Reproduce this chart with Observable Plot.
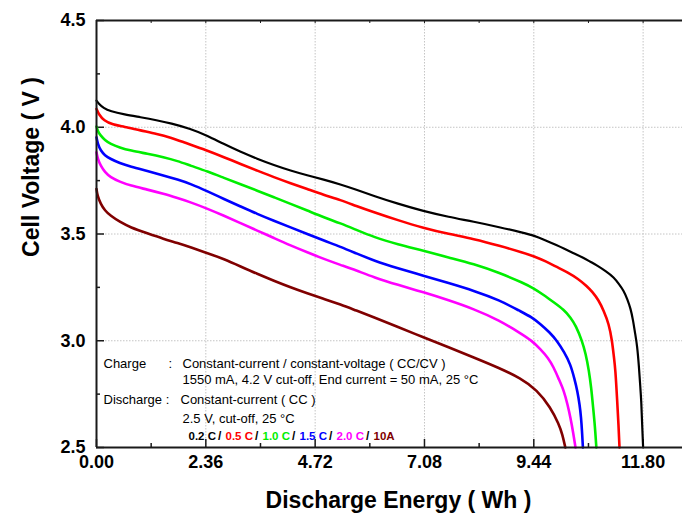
<!DOCTYPE html>
<html><head><meta charset="utf-8">
<script src="https://cdn.jsdelivr.net/npm/d3@7"></script>
<script src="https://cdn.jsdelivr.net/npm/@observablehq/plot@0.6"></script>
<style>html,body{margin:0;padding:0;background:#fff}#chart svg{display:block}</style>
</head><body><div id="chart"></div><script>
// ---- data ----
const seriesNames = ["0.2 C", "0.5 C", "1.0 C", "1.5 C", "2.0 C", "10A"];
const seriesColors = ["#000000", "#ff0000", "#00ee00", "#0000ff", "#ff00ff", "#800000"];

const energy02 = [0,0.05,0.15,0.30,0.6,0.95,1.3,1.6,2.03,2.4,2.74,3.1,3.47,3.83,4.19,4.55,4.90,5.27,5.6,5.99,6.5,7.06,7.6,8.14,8.7,9.22,9.44,9.7,9.94,10.09,10.3,10.5,10.66,10.81,11.0,11.17,11.28,11.38,11.46,11.53,11.58,11.63,11.67,11.71,11.74,11.76,11.78,11.80];
const volt02   = [4.125,4.11,4.09,4.075,4.06,4.047,4.033,4.019,3.993,3.96,3.922,3.886,3.852,3.823,3.797,3.775,3.755,3.732,3.708,3.678,3.642,3.607,3.58,3.558,3.532,3.505,3.493,3.47,3.447,3.432,3.41,3.39,3.37,3.352,3.325,3.297,3.265,3.235,3.195,3.15,3.1,3.03,2.98,2.88,2.78,2.72,2.6,2.5];

const energy05 = [0,0.05,0.16,0.35,0.59,0.95,1.31,1.6,1.88,2.39,2.75,3.11,3.47,3.83,4.19,4.55,4.9,5.27,5.6,5.99,6.5,7.06,7.6,8.14,8.7,9.22,9.44,9.7,9.94,10.16,10.4,10.59,10.7,10.84,10.95,11.06,11.13,11.17,11.2,11.24,11.27,11.29];
const volt05   = [4.086,4.06,4.031,4.012,4.003,3.985,3.969,3.952,3.93,3.891,3.86,3.828,3.797,3.766,3.738,3.711,3.684,3.659,3.632,3.602,3.565,3.528,3.5,3.477,3.445,3.412,3.396,3.372,3.345,3.322,3.29,3.255,3.23,3.19,3.14,3.079,3.0,2.922,2.87,2.72,2.6,2.5];

const energy10 = [0,0.03,0.09,0.18,0.30,0.5,0.73,1.1,1.45,1.75,2.03,2.4,2.75,3.11,3.47,3.83,4.19,4.55,4.91,5.27,5.6,5.99,6.5,7.06,7.6,8.14,8.7,9.22,9.44,9.65,9.87,10.09,10.23,10.35,10.48,10.56,10.63,10.68,10.72,10.76,10.79];
const volt10   = [4.003,3.98,3.961,3.94,3.922,3.905,3.891,3.876,3.86,3.842,3.82,3.793,3.763,3.733,3.703,3.672,3.641,3.61,3.578,3.55,3.52,3.485,3.452,3.422,3.39,3.36,3.318,3.27,3.245,3.215,3.18,3.145,3.11,3.07,3.0,2.94,2.86,2.78,2.688,2.6,2.5];

const energy15 = [0,0.03,0.09,0.18,0.30,0.5,0.73,1.1,1.45,1.75,2.03,2.4,2.75,3.11,3.47,3.83,4.19,4.55,4.91,5.27,5.6,5.99,6.5,7.06,7.6,8.14,8.7,9.15,9.4,9.58,9.78,9.94,10.1,10.23,10.32,10.38,10.43,10.46,10.48,10.50];
const volt15   = [3.953,3.92,3.891,3.868,3.852,3.832,3.816,3.795,3.774,3.755,3.735,3.70,3.664,3.629,3.594,3.562,3.531,3.50,3.469,3.44,3.41,3.375,3.34,3.305,3.27,3.235,3.19,3.138,3.11,3.079,3.04,3.0,2.945,2.891,2.82,2.766,2.70,2.641,2.58,2.5];

const energy20 = [0,0.03,0.09,0.18,0.30,0.5,0.73,1.1,1.45,1.75,2.03,2.4,2.75,3.11,3.47,3.83,4.19,4.55,4.91,5.27,5.6,5.99,6.5,7.06,7.6,8.14,8.7,9.15,9.4,9.58,9.75,9.87,9.98,10.09,10.17,10.23,10.29,10.34];
const volt20   = [3.883,3.85,3.82,3.79,3.766,3.745,3.727,3.708,3.688,3.668,3.649,3.618,3.586,3.551,3.516,3.481,3.446,3.414,3.383,3.355,3.33,3.297,3.262,3.227,3.19,3.149,3.095,3.035,3.0,2.961,2.92,2.875,2.82,2.766,2.70,2.641,2.57,2.5];

const energy10A = [0,0.02,0.09,0.18,0.30,0.5,0.73,1.1,1.45,1.75,2.03,2.4,2.75,3.11,3.47,3.83,4.19,4.55,4.91,5.27,5.6,5.99,6.5,7.06,7.6,8.14,8.7,9.15,9.51,9.8,9.98,10.06,10.12];
const volt10A   = [3.711,3.68,3.641,3.61,3.586,3.557,3.531,3.503,3.477,3.458,3.438,3.41,3.383,3.348,3.313,3.281,3.25,3.222,3.196,3.17,3.142,3.11,3.065,3.016,2.97,2.922,2.872,2.825,2.77,2.688,2.61,2.56,2.5];

const xMajor = [0, 2.36, 4.72, 7.08, 9.44, 11.80];
const xMinor = [1.18, 3.54, 5.90, 8.26, 10.62];
const yMajor = [2.5, 3.0, 3.5, 4.0, 4.5];
const yMinor = [2.75, 3.25, 3.75, 4.25];

const annotationLines = [
  "Charge", ":", "Constant-current / constant-voltage ( CC/CV )",
  "1550 mA, 4.2 V cut-off, End current = 50 mA, 25 °C",
  "Discharge :", "Constant-current ( CC )",
  "2.5 V, cut-off, 25 °C"
];

// ---- build table ----
const seriesData = [
  [energy02, volt02], [energy05, volt05], [energy10, volt10],
  [energy15, volt15], [energy20, volt20], [energy10A, volt10A]
];
const rows = seriesData.map(([E, V], i) => E.map((e, j) => ({series: seriesNames[i], e, v: V[j]})));

// ---- layout ----
const W = 682, H = 513, ML = 96, MR = 0, MT = 20, MB = 66;
const frameH = H - MT - MB, frameW = W - ML - MR;
const font = "'Liberation Sans', Arial, Helvetica, sans-serif";
const axisColor = "#1a1a1a";

// annotation placement (pixels from frame bottom-left)
const annPos = [[7,-80],[72,-80],[86,-80],[86,-64],[7,-44],[84,-44],[86,-25]];

const marks = [
  // grid
  Plot.ruleX(xMajor.slice(1), {x: d => d, stroke: "#c4c4c4", strokeWidth: 1, strokeDasharray: "1.5,1.5"}),
  Plot.ruleY(yMajor.slice(1, -1), {y: d => d, stroke: "#c4c4c4", strokeWidth: 1, strokeDasharray: "1.5,1.5"}),
  // inward ticks
  Plot.tickX(xMajor, {x: d => d, insetTop: frameH - 8, stroke: axisColor, strokeWidth: 1.5}),
  Plot.tickX(xMinor, {x: d => d, insetTop: frameH - 4, stroke: axisColor, strokeWidth: 1.5}),
  Plot.tickX(xMajor.concat(xMinor), {x: d => d, insetBottom: frameH - 3, stroke: axisColor, strokeWidth: 1}),
  Plot.tickY(yMajor, {y: d => d, insetRight: frameW - 8, stroke: axisColor, strokeWidth: 1.5}),
  Plot.tickY(yMinor, {y: d => d, insetRight: frameW - 4, stroke: axisColor, strokeWidth: 1.5}),
];

// curves
rows.forEach((r, i) => {
  marks.push(Plot.line(r, {x: "e", y: "v", stroke: seriesColors[i], strokeWidth: i === 0 ? 2.2 : 2.6, curve: "basis"}));
});

// frame
marks.push(
  Plot.ruleX([0], {x: d => d, stroke: axisColor, strokeWidth: 2}),
  Plot.ruleY([2.5], {y: d => d, stroke: axisColor, strokeWidth: 2}),
  Plot.ruleY([4.5], {y: d => d, stroke: axisColor, strokeWidth: 2}),
  Plot.axisX(xMajor, {anchor: "bottom", tickSize: 0, tickPadding: 8, tickFormat: d => d.toFixed(2), fontSize: 18, fontWeight: "bold", label: null}),
  Plot.axisY(yMajor, {anchor: "left", tickSize: 0, tickPadding: 11, tickFormat: d => d.toFixed(1), fontSize: 18, fontWeight: "bold", label: null}),
  Plot.text(["Discharge Energy ( Wh )"], {frameAnchor: "bottom", dx: 9, dy: 60, textAnchor: "middle", lineAnchor: "bottom", fontSize: 23, fontWeight: "bold", fill: "#000"}),
  Plot.text(["Cell Voltage ( V )"], {frameAnchor: "left", rotate: -90, dx: -65, dy: -67, textAnchor: "middle", lineAnchor: "middle", fontSize: 23, fontWeight: "bold", fill: "#000"})
);

annotationLines.forEach((t, i) => {
  marks.push(Plot.text([t], {frameAnchor: "bottom-left", dx: annPos[i][0], dy: annPos[i][1], textAnchor: "start", lineAnchor: "bottom", fontSize: 13, fill: "#000"}));
});

seriesNames.forEach((name, i) => {
  marks.push(Plot.text([name], {frameAnchor: "bottom-left", dx: 92 + i * 37, dy: -8, textAnchor: "start", lineAnchor: "bottom", fontSize: 11.5, fontWeight: "bold", fill: seriesColors[i]}));
  if (i < seriesNames.length - 1) {
    marks.push(Plot.text(["/"], {frameAnchor: "bottom-left", dx: 92 + i * 37 + 29.5, dy: -8, textAnchor: "start", lineAnchor: "bottom", fontSize: 12, fontWeight: "bold", fill: "#000"}));
  }
});

const chart = Plot.plot({
  width: W, height: H,
  marginLeft: ML, marginRight: MR, marginTop: MT, marginBottom: MB,
  style: {fontFamily: font, background: "#fff", color: "#000", overflow: "visible"},
  x: {domain: [0, 12.65]},
  y: {domain: [2.5, 4.5]},
  marks
});
document.getElementById("chart").appendChild(chart);
</script></body></html>
